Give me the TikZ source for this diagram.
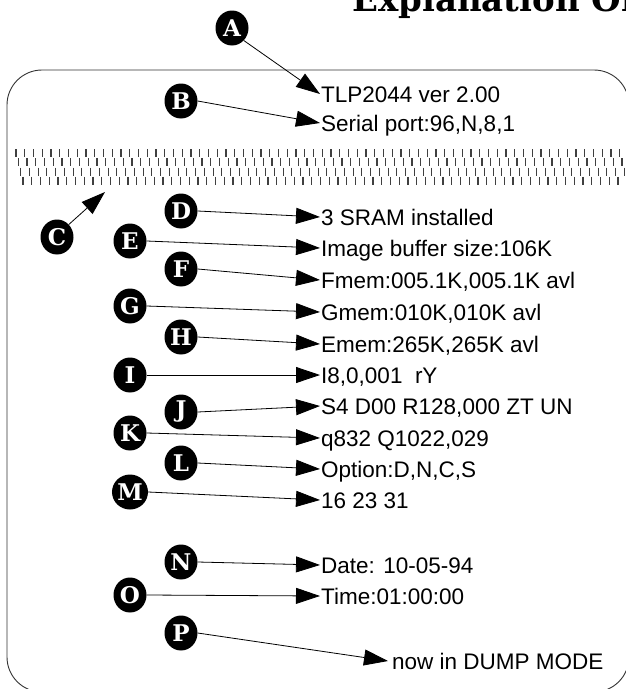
\documentclass[tikz,border=0pt]{standalone}
\usepackage{fontspec}
\setmainfont{Liberation Sans}
\newfontfamily\dvs{DejaVu Serif}
\usetikzlibrary{arrows.meta,shapes.geometric}
\tikzset{
  lab/.style={ellipse,fill=black,text=white,inner sep=0pt,minimum width=33pt,minimum height=35pt,
    font=\dvs\bfseries\fontsize{23}{23}\selectfont},
  txt/.style={anchor=west,inner xsep=1pt,inner ysep=0pt,text height=16pt,text depth=0pt,
    font=\fontsize{22.5}{22.5}\selectfont},
  arr/.style={draw=black,line width=0.8pt,-{Triangle[length=24pt,width=16pt]}},
  tick/.style={draw=black!75,line width=1.2pt},
  frame/.style={draw=black!80,line width=0.9pt,rounded corners=35pt}
}
\begin{document}
\begin{tikzpicture}[x=1pt,y=-1pt]
\useasboundingbox (0,0) rectangle (626,689);
% title (cut by the top edge)
\node[anchor=base west,inner sep=0pt,font=\dvs\bfseries\fontsize{34}{34}\selectfont] (title) at (352,11) {Explanation Of};
% frame
\draw[frame] (7,70) rectangle (629,692);
% print-head test pattern
\foreach \r in {0,...,3}{
  \foreach \i in {0,...,70}{
    \draw[tick] ({16+2.3*\r+8.75*\i},{149+9.3*\r}) -- ++(0,8);
  }
}
% texts
\node[txt] (tA) at (320,94) {TLP2044 ver 2.00};
\node[txt] (tB) at (320,123) {Serial port:96,N,8,1};
\node[txt] (tD) at (320,217) {3 SRAM installed};
\node[txt] (tE) at (320,248) {Image buffer size:106K};
\node[txt] (tF) at (320,280) {Fmem:005.1K,005.1K avl};
\node[txt] (tG) at (320,312) {Gmem:010K,010K avl};
\node[txt] (tH) at (320,344) {Emem:265K,265K avl};
\node[txt] (tI) at (320,375) {I8,0,001\ \ rY};
\node[txt] (tJ) at (320,406) {S4 D00 R128,000 ZT UN};
\node[txt] (tK) at (320,438) {q832 Q1022,029};
\node[txt] (tL) at (320,469) {Option:D,N,C,S};
\node[txt] (tM) at (320,500) {16 23 31};
\node[txt] (tN) at (320,565) {Date: 10-05-94};
\node[txt] (tO) at (320,596) {Time:01:00:00};
\node[txt,inner xsep=0pt] (tP) at (388,661) {\hspace{4pt}now in DUMP MODE};
% labels
\node[lab] (A) at (232,28) {A};
\node[lab] (B) at (181,101) {B};
\node[lab] (C) at (57,237) {C};
\node[lab] (D) at (181,211) {D};
\node[lab] (E) at (130,241) {E};
\node[lab] (F) at (181,269) {F};
\node[lab] (G) at (130,306) {G};
\node[lab] (H) at (181,337) {H};
\node[lab] (I) at (130,375) {I};
\node[lab] (J) at (181,412) {J};
\node[lab] (K) at (130,433) {K};
\node[lab] (L) at (181,463) {L};
\node[lab] (M) at (130,492) {M};
\node[lab] (N) at (181,562) {N};
\node[lab] (O) at (130,595) {O};
\node[lab] (P) at (181,633) {P};
\coordinate (Ctip) at (105,192);
% connectors
\draw[arr] (A.south east) -- (tA.west);
\draw[arr] (B.east) -- (tB.west);
\draw[arr] (C.north east) -- (Ctip);
\draw[arr] (D.east) -- (tD.west);
\draw[arr] (E.east) -- (tE.west);
\draw[arr] (F.east) -- (tF.west);
\draw[arr] (G.east) -- (tG.west);
\draw[arr] (H.east) -- (tH.west);
\draw[arr] (I.east) -- (tI.west);
\draw[arr] (J.east) -- (tJ.west);
\draw[arr] (K.east) -- (tK.west);
\draw[arr] (L.east) -- (tL.west);
\draw[arr] (M.east) -- (tM.west);
\draw[arr] (N.east) -- (tN.west);
\draw[arr] (O.east) -- (tO.west);
\draw[arr] (P.east) -- (tP.west);
\end{tikzpicture}
\end{document}
